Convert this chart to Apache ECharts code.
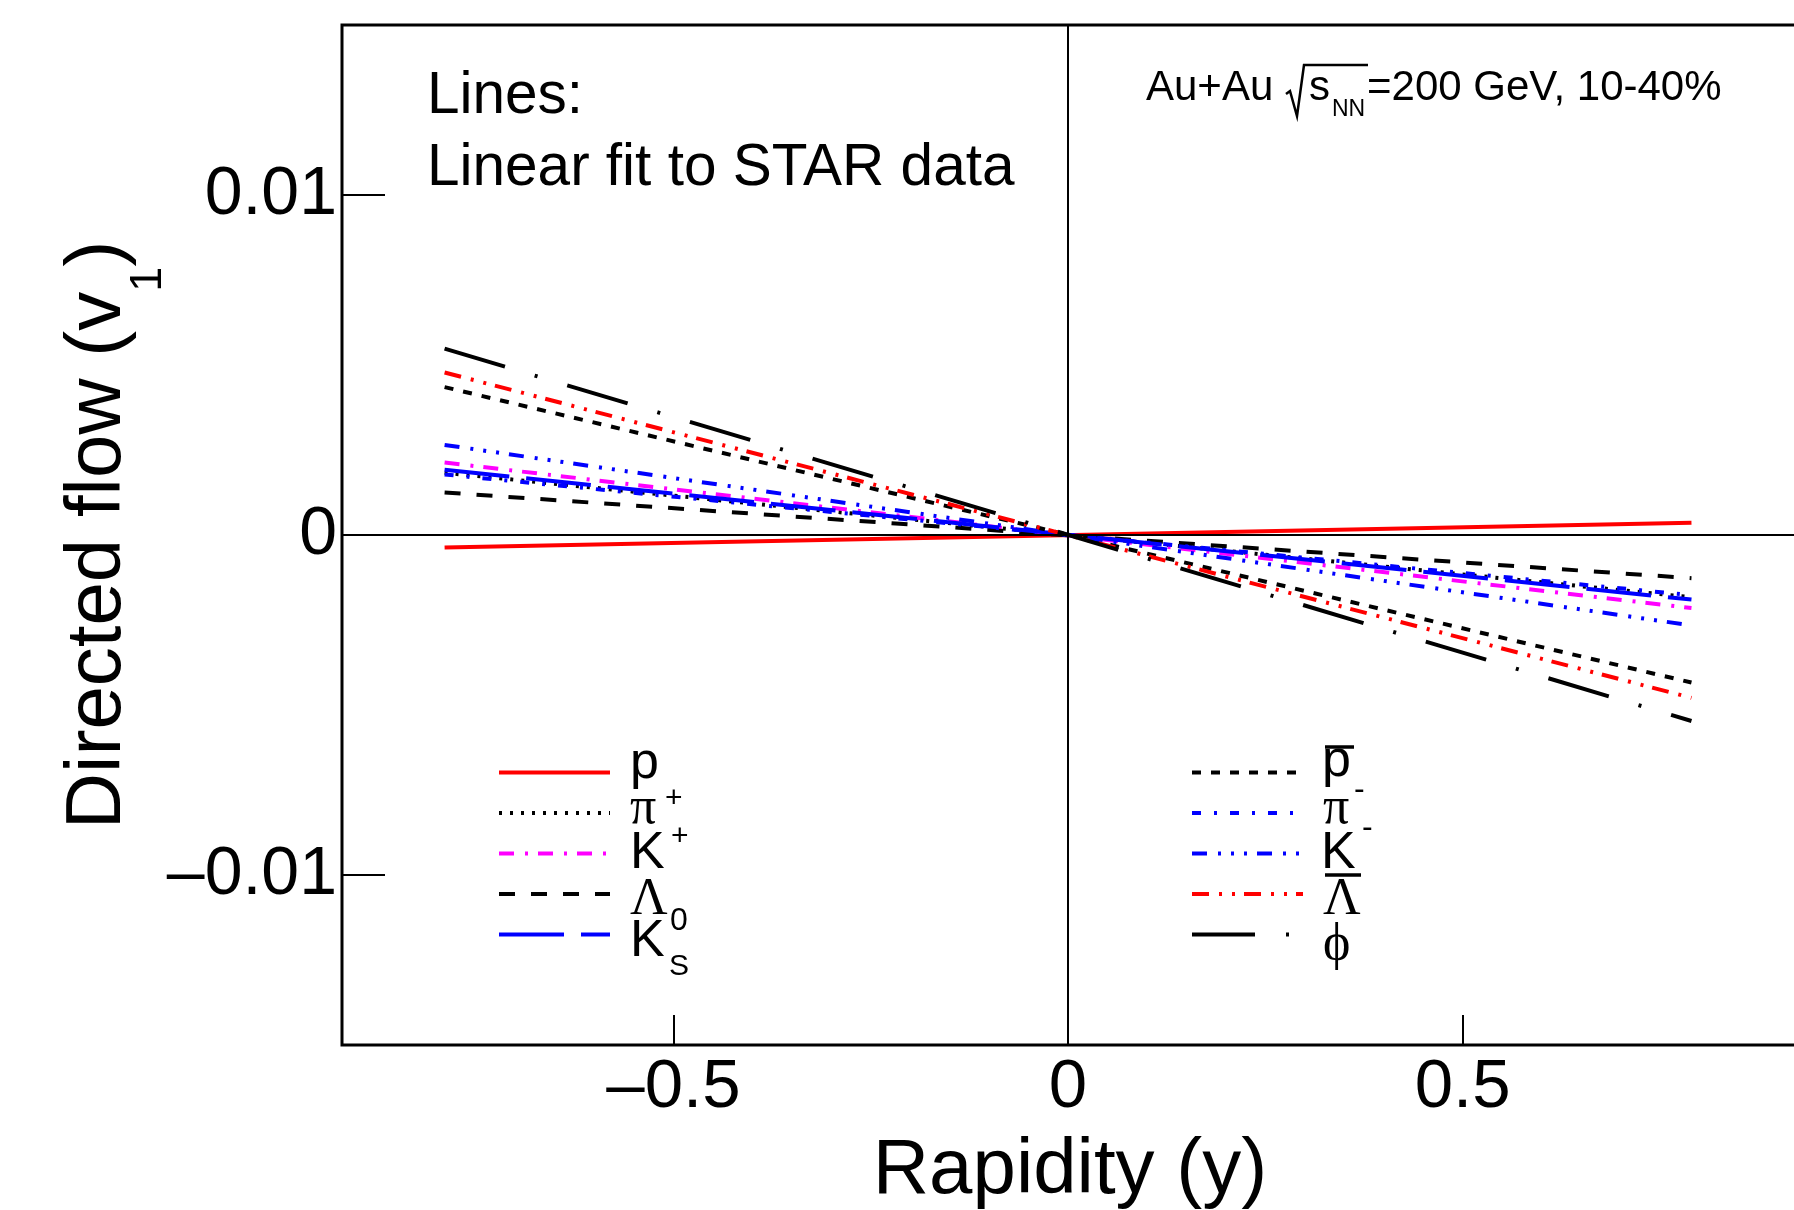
<!DOCTYPE html>
<html>
<head>
<meta charset="utf-8">
<script src="https://cdn.jsdelivr.net/npm/echarts@6/dist/echarts.min.js"></script>
<style>
  html, body { margin: 0; padding: 0; background: #fff; }
  #chart { width: 1794px; height: 1210px; }
</style>
</head>
<body>
<div id="chart"></div>
<script>
// Directed flow v1 vs rapidity: straight-line fits for identified particles, Au+Au 200 GeV, 10-40%

// rapidity range covered by each fitted line
const fitRange = [-0.79, 0.79];

// particle species, in legend order (left column, then right column)
const species = ['p', 'π+', 'K+', 'Λ', 'K0S', 'p̄', 'π−', 'K−', 'Λ̄', 'ϕ'];

// v1 of each fit at the low and high end of the rapidity range
const v1AtLow  = [-0.00037, 0.00183, 0.00213, 0.00125, 0.00192, 0.00435, 0.00178, 0.00265, 0.00478, 0.00548];
const v1AtHigh = [ 0.00036, -0.00183, -0.00215, -0.00127, -0.00190, -0.00434, -0.00177, -0.00266, -0.00479, -0.00547];

// axis tick positions
const xTicks = [-0.5, 0, 0.5];
const yTicks = [-0.01, 0, 0.01];

const SANS = "'Liberation Sans', Arial, Helvetica, sans-serif";
const SERIF = "'Liberation Serif', 'Times New Roman', serif";

// colour and dash pattern of each species' line
const lineLooks = [
  { color: '#ff0000', type: 'solid' },
  { color: '#000000', type: [3, 8] },
  { color: '#ff00ff', type: [15, 11, 3, 10] },
  { color: '#000000', type: [16, 16] },
  { color: '#0000ff', type: [65, 17] },
  { color: '#000000', type: [9, 10] },
  { color: '#0000ff', type: [9, 13, 3, 13] },
  { color: '#0000ff', type: [15, 11, 3, 10, 3, 10, 3, 10] },
  { color: '#ff0000', type: [17, 10, 3, 10, 3, 9] },
  { color: '#000000', type: [63, 31, 3, 31] }
];

const tickText = v => v === 0 ? '0' : (v < 0 ? '\u2013' + String(Math.abs(v)) : String(v));

// legend rows: icon column drawn by the legend component, labels drawn as text next to it
const ROW_H = 45;
const LEGEND_TOP = 750;

const legendBase = {
  orient: 'vertical',
  top: LEGEND_TOP,
  itemWidth: 111,
  itemHeight: ROW_H,
  itemGap: 0,
  padding: 0,
  selectedMode: false,
  lineStyle: { width: 4 },
  itemStyle: { opacity: 0 },
  formatter: () => '',
  textStyle: { fontSize: 10 }
};

function txt(text, x, y, size, family) {
  return {
    type: 'text', x: x, y: y, silent: true,
    style: { text: text, fontSize: size, fontFamily: family || SANS, fill: '#000', verticalAlign: 'middle', align: 'left' }
  };
}
function bar(x1, x2, y) {
  return {
    type: 'line', silent: true,
    shape: { x1: x1, y1: y, x2: x2, y2: y },
    style: { stroke: '#000', lineWidth: 3.5 }
  };
}

// legend label texts (left column at x≈630, right column at x≈1322)
const legendText = [
  txt('p', 630, 764, 52),
  txt('π', 630, 809.5, 52, SERIF), txt('+', 665, 798.5, 30),
  txt('K', 630, 854, 52), txt('+', 671, 837, 30),
  txt('Λ', 630, 900.5, 52, SERIF),
  txt('K', 630, 942, 52), txt('0', 670, 921, 32), txt('S', 669, 967, 30),

  txt('p', 1322, 762, 52), bar(1325, 1354, 747),
  txt('π', 1323, 809.5, 52, SERIF), txt('-', 1354, 790, 32),
  txt('K', 1321, 854, 52), txt('-', 1362, 828, 32),
  txt('Λ', 1323, 900.5, 52, SERIF), bar(1325, 1361, 875),
  txt('ϕ', 1323, 945.5, 52, SERIF)
];

const fitSeries = species.map((name, i) => ({
  name: name,
  type: 'line',
  symbol: 'none',
  silent: true,
  data: [[fitRange[0], v1AtLow[i]], [fitRange[1], v1AtHigh[i]]],
  lineStyle: { width: 4, color: lineLooks[i].color, type: lineLooks[i].type, cap: 'butt' },
  itemStyle: { color: lineLooks[i].color },
  z: 3
}));

// zero lines through the origin
const zeroLines = {
  name: 'zero',
  type: 'line',
  data: [],
  silent: true,
  z: 2,
  markLine: {
    silent: true,
    symbol: ['none', 'none'],
    label: { show: false },
    lineStyle: { color: '#000', width: 2, type: 'solid' },
    data: [{ xAxis: 0 }, { yAxis: 0 }]
  }
};

const option = {
  animation: false,
  backgroundColor: '#fff',
  grid: {
    left: 342, top: 25, width: 1456, height: 1020,
    outerBoundsMode: 'none',
    containLabel: false,
    show: true, borderColor: '#000', borderWidth: 3, backgroundColor: 'transparent'
  },
  xAxis: {
    type: 'value',
    min: -0.92, max: 0.925,
    axisLine: { show: false, onZero: false },
    axisTick: { show: true, inside: true, length: 30, customValues: xTicks, lineStyle: { color: '#000', width: 2 } },
    axisLabel: { customValues: xTicks, formatter: tickText, fontSize: 69, fontFamily: SANS, color: '#000', margin: 8 },
    splitLine: { show: false },
    name: 'Rapidity (y)',
    nameLocation: 'middle',
    nameGap: 87,
    nameMoveOverlap: false,
    nameTextStyle: { fontSize: 78, lineHeight: 78, fontFamily: SANS, color: '#000' }
  },
  yAxis: {
    type: 'value',
    min: -0.015, max: 0.015,
    axisLine: { show: false, onZero: false },
    axisTick: { show: true, inside: true, length: 43, customValues: yTicks, lineStyle: { color: '#000', width: 2 } },
    axisLabel: { customValues: yTicks, formatter: tickText, fontSize: 68, fontFamily: SANS, color: '#000', margin: 5, padding: [7, 0, 0, 0] },
    splitLine: { show: false },
    name: '{m|Directed flow (v}{sub|1}{m|)}',
    nameLocation: 'middle',
    nameGap: 171,
    nameMoveOverlap: false,
    nameTextStyle: {
      fontSize: 78, fontFamily: SANS, color: '#000',
      rich: {
        m:   { fontSize: 78, fontFamily: SANS, lineHeight: 112, verticalAlign: 'top', color: '#000' },
        sub: { fontSize: 45, fontFamily: SANS, lineHeight: 112, verticalAlign: 'bottom', color: '#000' }
      }
    }
  },
  legend: [
    Object.assign({}, legendBase, { left: 497, data: species.slice(0, 5) }),
    Object.assign({}, legendBase, { left: 1190, data: species.slice(5) })
  ],
  graphic: [
    txt('Lines:', 427, 97, 58.5),
    txt('Linear fit to STAR data', 427, 169, 58.5),
    txt('Au+Au', 1146, 88.5, 42),
    { type: 'polyline', silent: true,
      shape: { points: [[1286, 94], [1290, 91], [1297, 116], [1304, 65], [1368, 65]] },
      style: { stroke: '#000', lineWidth: 2.5, fill: null } },
    txt('s', 1309, 88.5, 42),
    txt('NN', 1332, 110, 23),
    txt('=200 GeV, 10-40%', 1367, 88.5, 42)
  ].concat(legendText),
  series: [zeroLines].concat(fitSeries)
};

const chart = echarts.init(document.getElementById('chart'), null, { renderer: 'canvas' });
chart.setOption(option);
</script>
</body>
</html>
